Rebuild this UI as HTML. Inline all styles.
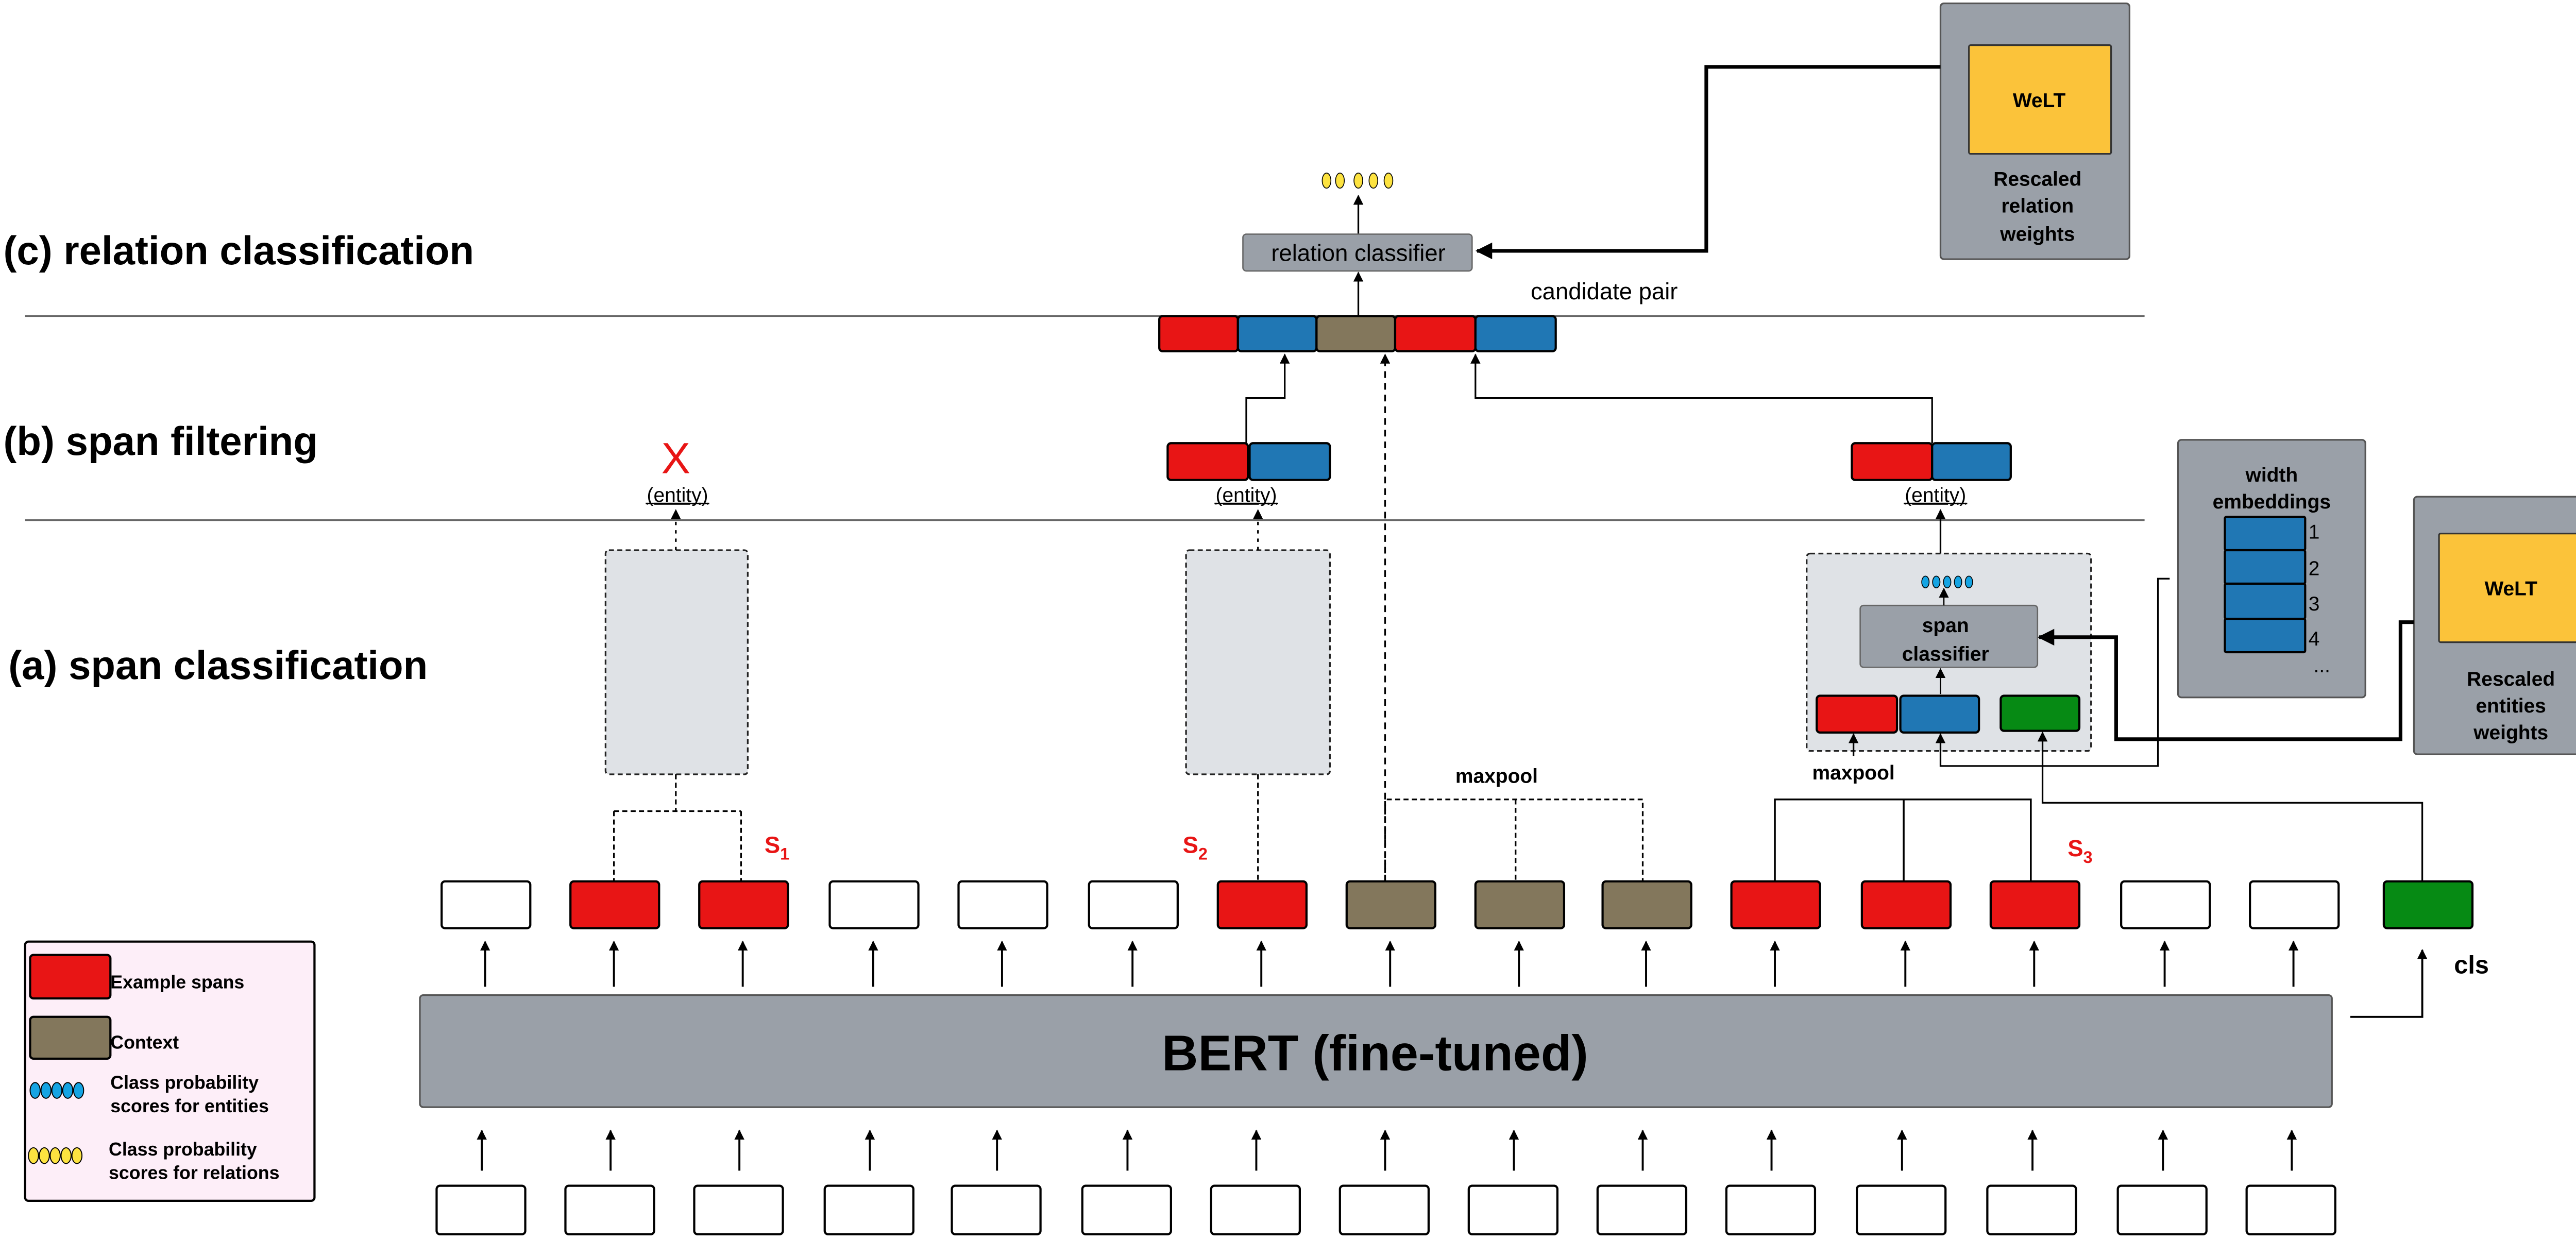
<!DOCTYPE html>
<html><head><meta charset="utf-8"><style>
html,body{margin:0;padding:0;background:#fff;}
svg{display:block;}
text{font-family:"Liberation Sans",sans-serif;}
</style></head><body>
<svg width="5075" height="2438" viewBox="0 0 1563 751" preserveAspectRatio="none" xmlns="http://www.w3.org/2000/svg">
<defs>
<marker id="a" viewBox="0 0 10 10" refX="9" refY="5" markerWidth="6" markerHeight="6" orient="auto" markerUnits="userSpaceOnUse"><path d="M0,0 L10,5 L0,10 z" fill="#000"/></marker>
<marker id="ab" viewBox="0 0 10 10" refX="9" refY="5" markerWidth="10" markerHeight="10" orient="auto" markerUnits="userSpaceOnUse"><path d="M0,0 L10,5 L0,10 z" fill="#000"/></marker>
</defs>
<rect width="1563" height="751" fill="#fff"/>
<!-- headings -->
<g font-weight="bold" font-size="24" fill="#000">
<text x="2" y="158">(c) relation classification</text>
<text x="2" y="272">(b) span filtering</text>
<text x="5" y="406">(a) span classification</text>
</g>
<line x1="15" y1="189" x2="1282" y2="189" stroke="#666" stroke-width="1"/>
<line x1="15" y1="311" x2="1282" y2="311" stroke="#666" stroke-width="1"/>

<!-- BERT -->
<rect x="251" y="595" width="1143" height="67" rx="2" fill="#9aa0a8" stroke="#555" stroke-width="1"/>
<text x="822" y="640" font-size="30" font-weight="bold" text-anchor="middle">BERT (fine-tuned)</text>

<!-- upper tokens -->
<g stroke="#000" stroke-width="1.3">
<rect x="264" y="527" width="53" height="28" rx="2" fill="#fff"/>
<rect x="341" y="527" width="53" height="28" rx="2" fill="#e81515"/>
<rect x="418" y="527" width="53" height="28" rx="2" fill="#e81515"/>
<rect x="496" y="527" width="53" height="28" rx="2" fill="#fff"/>
<rect x="573" y="527" width="53" height="28" rx="2" fill="#fff"/>
<rect x="651" y="527" width="53" height="28" rx="2" fill="#fff"/>
<rect x="728" y="527" width="53" height="28" rx="2" fill="#e81515"/>
<rect x="805" y="527" width="53" height="28" rx="2" fill="#83775c"/>
<rect x="882" y="527" width="53" height="28" rx="2" fill="#83775c"/>
<rect x="958" y="527" width="53" height="28" rx="2" fill="#83775c"/>
<rect x="1035" y="527" width="53" height="28" rx="2" fill="#e81515"/>
<rect x="1113" y="527" width="53" height="28" rx="2" fill="#e81515"/>
<rect x="1190" y="527" width="53" height="28" rx="2" fill="#e81515"/>
<rect x="1268" y="527" width="53" height="28" rx="2" fill="#fff"/>
<rect x="1345" y="527" width="53" height="28" rx="2" fill="#fff"/>
<rect x="1425" y="527" width="53" height="28" rx="2" fill="#068a14"/>
</g>
<!-- arrows between tokens and BERT -->
<g stroke="#000" stroke-width="1.2" marker-end="url(#a)">
<line x1="290" y1="590" x2="290" y2="563"/><line x1="367" y1="590" x2="367" y2="563"/>
<line x1="444" y1="590" x2="444" y2="563"/><line x1="522" y1="590" x2="522" y2="563"/>
<line x1="599" y1="590" x2="599" y2="563"/><line x1="677" y1="590" x2="677" y2="563"/>
<line x1="754" y1="590" x2="754" y2="563"/><line x1="831" y1="590" x2="831" y2="563"/>
<line x1="908" y1="590" x2="908" y2="563"/><line x1="984" y1="590" x2="984" y2="563"/>
<line x1="1061" y1="590" x2="1061" y2="563"/><line x1="1139" y1="590" x2="1139" y2="563"/>
<line x1="1216" y1="590" x2="1216" y2="563"/><line x1="1294" y1="590" x2="1294" y2="563"/>
<line x1="1371" y1="590" x2="1371" y2="563"/>
<line x1="288" y1="700" x2="288" y2="676"/><line x1="365" y1="700" x2="365" y2="676"/>
<line x1="442" y1="700" x2="442" y2="676"/><line x1="520" y1="700" x2="520" y2="676"/>
<line x1="596" y1="700" x2="596" y2="676"/><line x1="674" y1="700" x2="674" y2="676"/>
<line x1="751" y1="700" x2="751" y2="676"/><line x1="828" y1="700" x2="828" y2="676"/>
<line x1="905" y1="700" x2="905" y2="676"/><line x1="982" y1="700" x2="982" y2="676"/>
<line x1="1059" y1="700" x2="1059" y2="676"/><line x1="1137" y1="700" x2="1137" y2="676"/>
<line x1="1215" y1="700" x2="1215" y2="676"/><line x1="1293" y1="700" x2="1293" y2="676"/>
<line x1="1370" y1="700" x2="1370" y2="676"/>
<path d="M1405 608 H1448 V568" fill="none"/>
</g>
<text x="1467" y="582" font-size="15" font-weight="bold">cls</text>
<!-- bottom tokens -->
<g stroke="#000" stroke-width="1.3" fill="#fff">
<rect x="261" y="709" width="53" height="29" rx="2"/><rect x="338" y="709" width="53" height="29" rx="2"/>
<rect x="415" y="709" width="53" height="29" rx="2"/><rect x="493" y="709" width="53" height="29" rx="2"/>
<rect x="569" y="709" width="53" height="29" rx="2"/><rect x="647" y="709" width="53" height="29" rx="2"/>
<rect x="724" y="709" width="53" height="29" rx="2"/><rect x="801" y="709" width="53" height="29" rx="2"/>
<rect x="878" y="709" width="53" height="29" rx="2"/><rect x="955" y="709" width="53" height="29" rx="2"/>
<rect x="1032" y="709" width="53" height="29" rx="2"/><rect x="1110" y="709" width="53" height="29" rx="2"/>
<rect x="1188" y="709" width="53" height="29" rx="2"/><rect x="1266" y="709" width="53" height="29" rx="2"/>
<rect x="1343" y="709" width="53" height="29" rx="2"/>
</g>

<!-- legend -->
<rect x="15" y="563" width="173" height="155" rx="2" fill="#fdeef8" stroke="#000" stroke-width="1.3"/>
<rect x="18" y="571" width="48" height="26" rx="2" fill="#e81515" stroke="#000" stroke-width="1.3"/>
<rect x="18" y="608" width="48" height="25" rx="2" fill="#83775c" stroke="#000" stroke-width="1.3"/>
<g font-size="11" font-weight="bold">
<text x="66" y="591">Example spans</text>
<text x="66" y="627">Context</text>
<text x="66" y="651">Class probability</text>
<text x="66" y="665">scores for entities</text>
<text x="65" y="691">Class probability</text>
<text x="65" y="705">scores for relations</text>
</g>
<g stroke="#000" stroke-width="0.6" fill="#15a4e3">
<ellipse cx="21" cy="652" rx="3" ry="4.7"/><ellipse cx="27.5" cy="652" rx="3" ry="4.7"/><ellipse cx="34" cy="652" rx="3" ry="4.7"/><ellipse cx="40.5" cy="652" rx="3" ry="4.7"/><ellipse cx="47" cy="652" rx="3" ry="4.7"/>
</g>
<g stroke="#000" stroke-width="0.6" fill="#fde340">
<ellipse cx="20" cy="691" rx="3" ry="4.7"/><ellipse cx="26.5" cy="691" rx="3" ry="4.7"/><ellipse cx="33" cy="691" rx="3" ry="4.7"/><ellipse cx="39.5" cy="691" rx="3" ry="4.7"/><ellipse cx="46" cy="691" rx="3" ry="4.7"/>
</g>

<!-- dashed boxes -->
<rect x="362" y="329" width="85" height="134" rx="2" fill="#dfe2e6" stroke="#222" stroke-width="1" stroke-dasharray="3,2"/>
<rect x="709" y="329" width="86" height="134" rx="2" fill="#dfe2e6" stroke="#222" stroke-width="1" stroke-dasharray="3,2"/>
<rect x="1080" y="331" width="170" height="118" rx="2" fill="#dfe2e6" stroke="#222" stroke-width="1" stroke-dasharray="3,2"/>

<!-- box1 connections -->
<g stroke="#000" stroke-width="1" stroke-dasharray="3,2" fill="none">
<path d="M404 463 V485 M367 485 H443 M367 485 V527 M443 485 V527"/>
<path d="M752 463 V527"/>
<path d="M828 527 V478 H982 V527 M906 478 V527"/>
</g>
<g stroke="#000" stroke-width="1" stroke-dasharray="2,3" fill="none" marker-end="url(#a)">
<line x1="404" y1="329" x2="404" y2="305"/>
<line x1="752" y1="329" x2="752" y2="305"/>
</g>
<line x1="828" y1="527" x2="828" y2="212" stroke="#000" stroke-width="1" stroke-dasharray="4,3" marker-end="url(#a)"/>
<text x="870" y="468" font-size="12" font-weight="bold">maxpool</text>

<!-- entity labels -->
<g font-size="12" text-anchor="middle" text-decoration="underline">
<text x="405" y="300">(entity)</text>
<text x="745" y="300">(entity)</text>
<text x="1157" y="300">(entity)</text>
</g>
<line x1="386" y1="301" x2="424" y2="301" stroke="#000" stroke-width="0.8"/>
<line x1="726" y1="301" x2="764" y2="301" stroke="#000" stroke-width="0.8"/>
<line x1="1138" y1="301" x2="1176" y2="301" stroke="#000" stroke-width="0.8"/>
<text x="404" y="283" font-size="26" fill="#e81515" text-anchor="middle">X</text>

<!-- S labels -->
<g fill="#e81515" font-size="14" font-weight="bold">
<text x="457" y="510">S<tspan font-size="10" dy="4">1</tspan></text>
<text x="707" y="510">S<tspan font-size="10" dy="4">2</tspan></text>
<text x="1236" y="512">S<tspan font-size="10" dy="4">3</tspan></text>
</g>

<!-- pairs -->
<g stroke="#000" stroke-width="1.3">
<rect x="698" y="265" width="48" height="22" rx="2" fill="#e81515"/>
<rect x="747" y="265" width="48" height="22" rx="2" fill="#2077b4"/>
<rect x="1107" y="265" width="48" height="22" rx="2" fill="#e81515"/>
<rect x="1155" y="265" width="47" height="22" rx="2" fill="#2077b4"/>
<rect x="693" y="189" width="47" height="21" rx="2" fill="#e81515"/>
<rect x="740" y="189" width="47" height="21" rx="2" fill="#2077b4"/>
<rect x="787" y="189" width="47" height="21" rx="2" fill="#83775c"/>
<rect x="834" y="189" width="48" height="21" rx="2" fill="#e81515"/>
<rect x="882" y="189" width="48" height="21" rx="2" fill="#2077b4"/>
</g>
<g stroke="#000" stroke-width="1" fill="none" marker-end="url(#a)">
<path d="M745 265 V238 H768 V212"/>
<path d="M1155 265 V238 H882 V212"/>
<line x1="812" y1="189" x2="812" y2="163"/>
<line x1="812" y1="140" x2="812" y2="117"/>
<line x1="1160" y1="331" x2="1160" y2="305"/>
</g>
<text x="915" y="179" font-size="14">candidate pair</text>

<!-- relation classifier -->
<rect x="743" y="140" width="137" height="22" rx="2" fill="#9aa0a8" stroke="#666" stroke-width="0.8"/>
<text x="812" y="156" font-size="14" text-anchor="middle">relation classifier</text>
<g stroke="#000" stroke-width="0.5" fill="#fde340">
<ellipse cx="793" cy="108" rx="2.6" ry="4.5"/><ellipse cx="801" cy="108" rx="2.6" ry="4.5"/><ellipse cx="812" cy="108" rx="2.6" ry="4.5"/><ellipse cx="821" cy="108" rx="2.6" ry="4.5"/><ellipse cx="830" cy="108" rx="2.6" ry="4.5"/>
</g>

<!-- WeLT top -->
<rect x="1160" y="2" width="113" height="153" rx="2" fill="#9aa0a8" stroke="#555" stroke-width="1"/>
<rect x="1177" y="27" width="85" height="65" rx="1" fill="#fbc33a" stroke="#333" stroke-width="1"/>
<g font-size="12" font-weight="bold" text-anchor="middle">
<text x="1219" y="64">WeLT</text>
<text x="1218" y="111">Rescaled</text>
<text x="1218" y="127">relation</text>
<text x="1218" y="144">weights</text>
</g>
<path d="M1160 40 H1020 V150 H883" fill="none" stroke="#000" stroke-width="2.2" marker-end="url(#ab)"/>

<!-- span classifier box contents -->
<g stroke="#000" stroke-width="0.5" fill="#15a4e3">
<ellipse cx="1151" cy="348" rx="2.2" ry="3.5"/><ellipse cx="1157.5" cy="348" rx="2.2" ry="3.5"/><ellipse cx="1164" cy="348" rx="2.2" ry="3.5"/><ellipse cx="1170.5" cy="348" rx="2.2" ry="3.5"/><ellipse cx="1177" cy="348" rx="2.2" ry="3.5"/>
</g>
<rect x="1112" y="362" width="106" height="37" rx="2" fill="#9aa0a8" stroke="#666" stroke-width="0.8"/>
<g font-size="12" font-weight="bold" text-anchor="middle">
<text x="1163" y="378">span</text>
<text x="1163" y="395">classifier</text>
</g>
<g stroke="#000" stroke-width="1.3">
<rect x="1086" y="416" width="48" height="22" rx="2" fill="#e81515"/>
<rect x="1136" y="416" width="47" height="22" rx="2" fill="#2077b4"/>
<rect x="1196" y="416" width="47" height="21" rx="2" fill="#068a14"/>
</g>
<g stroke="#000" stroke-width="0.8" fill="none" marker-end="url(#a)">
<line x1="1160" y1="415" x2="1160" y2="400"/>
<line x1="1162" y1="362" x2="1162" y2="352"/>
</g>
<g stroke="#000" stroke-width="1" fill="none" marker-end="url(#a)">
<line x1="1108" y1="452" x2="1108" y2="439"/>
<path d="M1297 346 H1290 V458 H1160 V439"/>
<path d="M1448 527 V480 H1221 V438"/>
</g>
<text x="1108" y="466" font-size="12" font-weight="bold" text-anchor="middle">maxpool</text>
<path d="M1061 527 V478 H1214 V527 M1138 478 V527" fill="none" stroke="#000" stroke-width="1.1"/>

<!-- width embeddings -->
<rect x="1302" y="263" width="112" height="154" rx="2" fill="#9aa0a8" stroke="#555" stroke-width="1"/>
<g font-size="12" font-weight="bold" text-anchor="middle">
<text x="1358" y="288">width</text>
<text x="1358" y="304">embeddings</text>
</g>
<g stroke="#000" stroke-width="1.3" fill="#2077b4">
<rect x="1330" y="309" width="48" height="20" rx="1"/>
<rect x="1330" y="329" width="48" height="20" rx="1"/>
<rect x="1330" y="349" width="48" height="21" rx="1"/>
<rect x="1330" y="370" width="48" height="20" rx="1"/>
</g>
<g font-size="12">
<text x="1380" y="322">1</text><text x="1380" y="344">2</text><text x="1380" y="365">3</text><text x="1380" y="386">4</text>
<text x="1383" y="402">...</text>
</g>

<!-- WeLT entities -->
<rect x="1443" y="297" width="117" height="154" rx="2" fill="#9aa0a8" stroke="#555" stroke-width="1"/>
<rect x="1458" y="319" width="85" height="65" rx="1" fill="#fbc33a" stroke="#333" stroke-width="1"/>
<g font-size="12" font-weight="bold" text-anchor="middle">
<text x="1501" y="356">WeLT</text>
<text x="1501" y="410">Rescaled</text>
<text x="1501" y="426">entities</text>
<text x="1501" y="442">weights</text>
</g>
<path d="M1443 372 H1435 V442 H1265 V381 H1219" fill="none" stroke="#000" stroke-width="2.2" marker-end="url(#ab)"/>
</svg>
</body></html>
